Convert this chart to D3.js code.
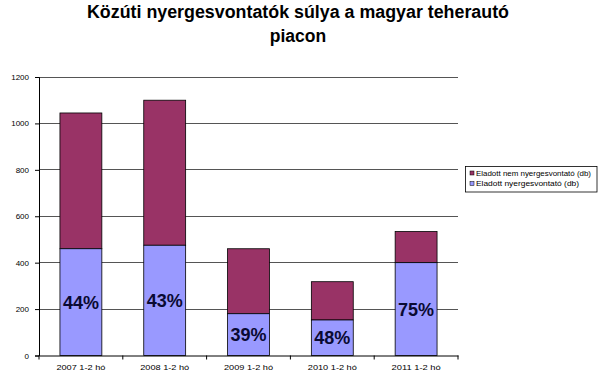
<!DOCTYPE html>
<html><head><meta charset="utf-8">
<script src="https://cdn.jsdelivr.net/npm/d3@7"></script>
<style>body{margin:0;background:#fff;}svg{display:block;}</style>
</head><body>
<svg id="c" width="600" height="383"></svg>
<script>
const categories = ["2007 1-2 hó","2008 1-2 hó","2009 1-2 hó","2010 1-2 hó","2011 1-2 hó"];
const tractors = [460, 475, 180, 153, 400];        // Eladott nyergesvontató (db)
const nonTractors = [585, 625, 280, 165, 134];     // Eladott nem nyergesvontató (db)
const percentLabels = ["44%","43%","39%","48%","75%"];
const yTicks = [0,200,400,600,800,1000,1200];
const seriesNames = ["Eladott nem nyergesvontató (db)","Eladott nyergesvontató (db)"];
const titleLines = ["Közúti nyergesvontatók súlya a magyar teherautó","piacon"];

const svg = d3.select("#c");
const font = "Arial, 'Liberation Sans', sans-serif";
const pLeft = 39, pRight = 458, pTop = 77, pBottom = 355.5;

const x = d3.scaleBand().domain(categories).range([pLeft, pRight]).paddingInner(0.5).paddingOuter(0.25);
const y = d3.scaleLinear().domain([0,1200]).range([pBottom, pTop]);

// gridlines
svg.append("g").selectAll("line").data(yTicks.filter(d=>d>0)).join("line")
  .attr("x1", pLeft).attr("x2", pRight)
  .attr("y1", d=>y(d)).attr("y2", d=>y(d))
  .attr("stroke", "#555").attr("stroke-width", 1).attr("shape-rendering","crispEdges");

const data = categories.map((c,i)=>({c, a: tractors[i], b: nonTractors[i], p: percentLabels[i]}));

// upper (non-tractor) segment
svg.append("g").selectAll("rect").data(data).join("rect")
  .attr("x", d=>x(d.c)).attr("width", x.bandwidth())
  .attr("y", d=>y(d.a+d.b)).attr("height", d=>y(d.a)-y(d.a+d.b))
  .attr("fill", "#993366").attr("stroke","#000").attr("stroke-width",0.8);
// lower (tractor) segment
svg.append("g").selectAll("rect").data(data).join("rect")
  .attr("x", d=>x(d.c)).attr("width", x.bandwidth())
  .attr("y", d=>y(d.a)).attr("height", d=>y(0)-y(d.a))
  .attr("fill", "#9999FF").attr("stroke","#000").attr("stroke-width",0.8);

// percent labels
svg.append("g").selectAll("text").data(data).join("text")
  .attr("x", d=>x(d.c)+x.bandwidth()/2)
  .attr("y", d=>(y(d.a)+y(0))/2)
  .attr("dy","0.36em")
  .attr("text-anchor","middle")
  .attr("font-family", font).attr("font-weight","bold").attr("font-size", 18)
  .attr("fill","#0a0a33").text(d=>d.p);

// y axis
const yAxis = d3.axisLeft(y).tickValues(yTicks).tickSize(4).tickPadding(6).tickFormat(d3.format("d"));
const gy = svg.append("g").attr("transform",`translate(${pLeft},0)`).call(yAxis);
gy.select(".domain").attr("stroke","#000");
gy.selectAll(".tick line").attr("stroke","#000");
gy.selectAll("text").attr("font-family",font).attr("font-size",8).attr("fill","#000");

// x axis
const xAxis = d3.axisBottom(x).tickSize(0).tickPadding(9);
const gx = svg.append("g").attr("transform",`translate(0,${pBottom})`).call(xAxis);
gx.select(".domain").attr("stroke","#000");
gx.selectAll("text").attr("font-family",font).attr("font-size",8).attr("fill","#000")
  .attr("textLength",49).attr("lengthAdjust","spacingAndGlyphs");
// category boundary ticks
const bounds = d3.range(categories.length+1).map(i=>pLeft + i*(pRight-pLeft)/categories.length);
svg.append("g").selectAll("line").data(bounds).join("line")
  .attr("x1",d=>d).attr("x2",d=>d).attr("y1",pBottom).attr("y2",pBottom+4)
  .attr("stroke","#000");

// title
const tt = svg.append("g").selectAll("text").data(titleLines).join("text")
  .attr("x", 298).attr("y",(d,i)=>18+i*24)
  .attr("text-anchor","middle")
  .attr("font-family",font).attr("font-weight","bold").attr("font-size",17.5)
  .attr("fill","#000").text(d=>d);
tt.filter((d,i)=>i===0).attr("textLength",422).attr("lengthAdjust","spacingAndGlyphs");

// legend
const lg = svg.append("g").attr("transform","translate(465.5,166.5)");
lg.append("rect").attr("x",0).attr("y",0).attr("width",131.5).attr("height",25.5)
  .attr("fill","#fff").attr("stroke","#000").attr("stroke-width",0.8);
const legColors = ["#993366","#9999FF"];
const legLens = [115, 103];
const li = lg.selectAll("g").data(seriesNames).join("g")
  .attr("transform",(d,i)=>`translate(4.5,${6.5+i*10.5})`);
li.append("rect").attr("x",0).attr("y",-2).attr("width",4).attr("height",4)
  .attr("fill",(d,i)=>legColors[i]).attr("stroke","#000").attr("stroke-width",0.5);
li.append("text").attr("x",6).attr("y",0).attr("dy","0.35em")
  .attr("font-family",font).attr("font-size",7.5).attr("fill","#000")
  .attr("textLength",(d,i)=>legLens[i]).attr("lengthAdjust","spacingAndGlyphs").text(d=>d);
</script>
</body></html>
